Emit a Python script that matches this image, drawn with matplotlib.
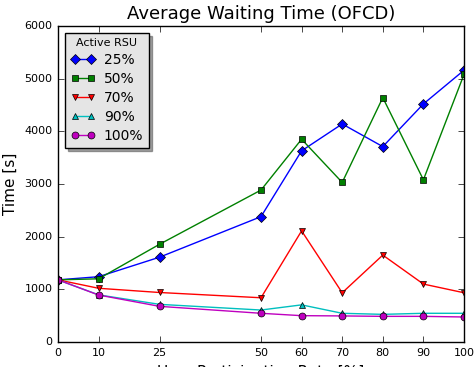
import matplotlib
matplotlib.use("Agg")
import matplotlib.pyplot as plt

plt.style.use("classic")

rates = [0, 10, 25, 50, 60, 70, 80, 90, 100]
rsu_labels = ["25%", "50%", "70%", "90%", "100%"]

wait_25 = [1180, 1240, 1610, 2380, 3630, 4140, 3710, 4520, 5160]
wait_50 = [1180, 1200, 1855, 2885, 3850, 3030, 4640, 3080, 5080]
wait_70 = [1180, 1020, 940, 840, 2110, 935, 1650, 1100, 935]
wait_90 = [1180, 895, 715, 607, 705, 545, 525, 545, 545]
wait_100 = [1180, 892, 677, 545, 500, 495, 487, 487, 475]

series = [wait_25, wait_50, wait_70, wait_90, wait_100]
colors = ["b", "g", "r", "c", "m"]
markers = ["D", "s", "v", "^", "o"]

fig = plt.figure(figsize=(4.74, 3.67), dpi=100, facecolor="white")
ax = fig.add_axes([58 / 474, 1 - 342 / 367, 406 / 474, 316 / 367])

for vals, lab, c, m in zip(series, rsu_labels, colors, markers):
    ax.plot(rates, vals, color=c, marker=m, markersize=5, label=lab,
            markeredgecolor="k", linewidth=1)

ax.set_xlim(0, 100)
ax.set_ylim(0, 6000)
ax.set_xticks(rates)
ax.tick_params(labelsize=8)
ax.set_title("Average Waiting Time (OFCD)", fontsize=13)
ax.set_ylabel("Time [s]", fontsize=11)
ax.set_xlabel("User Participation Rate [%]", fontsize=11)

leg = ax.legend(loc="upper left", title="Active RSU", fontsize=10,
                shadow=True, fancybox=False, numpoints=2, borderaxespad=0.5,
                handlelength=1.8, labelspacing=0.35, handletextpad=0.6)
leg.get_title().set_fontsize(8)
leg.get_frame().set_facecolor("#e5e5e5")

fig.savefig("out.png", dpi=100, facecolor="white")
